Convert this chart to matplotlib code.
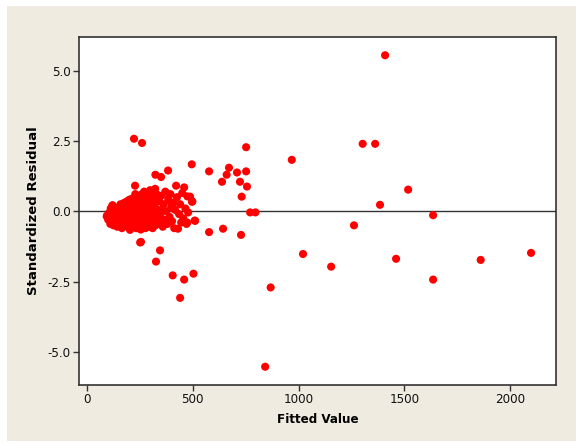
import matplotlib
matplotlib.use("Agg")
import matplotlib.pyplot as plt
from matplotlib.patches import Rectangle
from matplotlib.ticker import FormatStrFormatter

# Fitted values and standardized residuals
cluster_x = [95, 100, 105, 110, 112, 118, 120, 125, 128, 132, 135, 140, 143, 146, 150,
             155, 158, 160, 165, 168, 172, 175, 178, 182, 185, 188, 192, 195, 198, 200,
             203, 205, 208, 210, 213, 216, 218, 220, 222, 225, 227, 228, 230,
             232, 235, 237, 240, 242, 245, 247, 250, 252, 254, 256, 258, 260, 262, 264,
             266, 268, 270, 272, 274, 276, 278, 280, 282, 284, 286, 288, 290, 292, 294,
             296, 298, 300, 302, 304, 306, 308, 310, 312, 314, 316, 318, 320, 322, 324,
             326, 328, 330,
             334, 338, 342, 346, 350, 355, 358, 362, 366, 370, 375, 380, 384, 386, 390,
             394, 398, 402, 408, 412, 416, 421, 425, 430, 435, 440, 445, 450, 455, 459,
             465, 470, 474, 478, 474, 496, 509,
             93, 203, 121, 355, 383, 323, 350, 251, 345, 326, 255]
cluster_y = [-0.15, -0.30, -0.05, -0.45, 0.10, -0.25, 0.21, -0.50, -0.10, -0.35, 0.05, -0.20, -0.55, 0.12, -0.40,
             -0.05, 0.25, -0.30, -0.60, 0.10, -0.15, 0.30, -0.45, 0.00, -0.25, 0.35, -0.55, 0.15, -0.10, 0.41,
             -0.66, -0.35, 0.20, -0.05, 0.45, -0.50, 0.05, -0.25, 0.30, -0.40, 0.91, 0.61, 0.10,
             -0.60, 0.40, -0.15, 0.20, -0.45, 0.55, 0.00, -0.30, 0.35, -0.65, 0.10, 0.60, -0.20, 0.25, -0.50,
             0.45, -0.05, 0.70, -0.35, 0.15, -0.60, 0.50, -0.10, 0.30, -0.45, 0.65, 0.05, -0.25, 0.40, -0.55,
             0.20, 0.75, -0.15, 0.50, -0.40, 0.10, 0.70, -0.60, 0.30, -0.05, 0.55, -0.35, 0.15, 0.80, -0.50,
             0.40, -0.20, 0.60,
             0.05, -0.40, 0.35, -0.15, 0.55, 0.05, -0.55, 0.25, -0.30, 0.70, 0.00, -0.45, 0.45, 0.38, -0.20,
             0.61, 0.15, -0.35, 0.30, -0.60, 0.05, 0.91, 0.50, -0.62, -0.10, 0.25, -0.40, 0.65, -0.25, 0.85,
             0.10, -0.45, 0.53, -0.04, -0.40, 0.34, -0.33,
             -0.18, 0.41, 0.21, 0.05, 1.45, 1.30, 1.22, -1.11, -1.39, -1.79, -1.09]

outlier_x = [222, 260, 495, 752, 968, 577, 671, 660, 709, 752, 638, 723, 756, 731, 498,
             487, 771, 796, 511, 577, 643, 728, 503, 1409, 1303, 1362, 1518, 1385, 1636,
             1262, 1021, 1154, 1461, 1861, 2099, 1636, 868, 842, 440, 459, 405]
outlier_y = [2.58, 2.43, 1.67, 2.28, 1.83, 1.42, 1.55, 1.30, 1.38, 1.42, 1.05, 1.05, 0.88, 0.52, 0.35,
             0.52, -0.04, -0.04, -0.34, -0.74, -0.62, -0.84, -2.22, 5.55, 2.40, 2.40, 0.77, 0.23, -0.14,
             -0.50, -1.52, -1.97, -1.69, -1.73, -1.48, -2.43, -2.71, -5.53, -3.08, -2.43, -2.28]

x_ticks = [0, 500, 1000, 1500, 2000]
y_ticks = [-5.0, -2.5, 0.0, 2.5, 5.0]

W, H = 577, 444
fig = plt.figure(figsize=(W / 100, H / 100), dpi=100, facecolor="white")
fig.patches.append(Rectangle((7 / W, (H - 441) / H), 569 / W, 435 / H,
                             transform=fig.transFigure, facecolor="#EFEBE1",
                             edgecolor="none", zorder=-10))

ax = fig.add_axes([79 / W, (H - 385) / H, (556 - 79) / W, (385 - 37) / H])
ax.set_facecolor("white")

ax.axhline(0, color="#333333", linewidth=1.0, zorder=1)
ax.scatter(cluster_x + outlier_x, cluster_y + outlier_y, s=34, color="#FF0000",
           edgecolors="none", zorder=3)

ax.set_xlim(-38, 2217)
ax.set_ylim(-6.18, 6.2)
ax.set_xticks(x_ticks)
ax.set_yticks(y_ticks)
ax.yaxis.set_major_formatter(FormatStrFormatter("%.1f"))

for side in ["top", "right", "bottom", "left"]:
    ax.spines[side].set_color("#333333")
    ax.spines[side].set_linewidth(1.2)

ax.tick_params(axis="both", direction="out", length=4, width=1, color="#333333",
               labelsize=9.5, labelcolor="#111111", pad=2)
for lab in ax.get_xticklabels() + ax.get_yticklabels():
    lab.set_fontstretch("condensed")

ax.set_xlabel("Fitted Value", fontsize=9.5, fontweight="bold", fontstretch="condensed",
              labelpad=5)
ax.set_ylabel("Standardized Residual", fontsize=9.5, fontweight="bold", labelpad=5)

fig.savefig("out.png", dpi=100, facecolor=fig.get_facecolor())
